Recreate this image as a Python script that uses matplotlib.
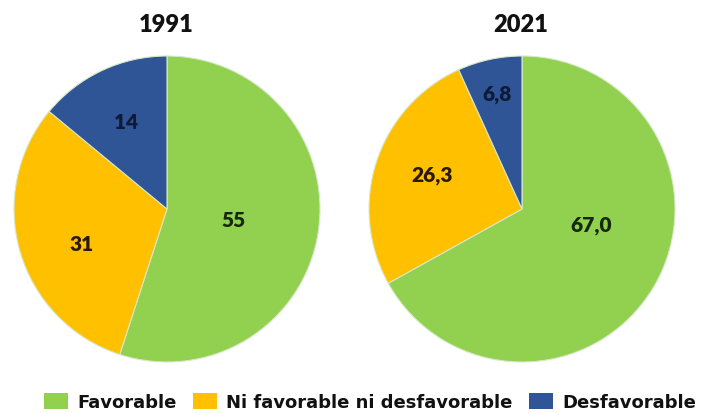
import matplotlib
matplotlib.use("Agg")
import matplotlib.pyplot as plt
import numpy as np

years = ["1991", "2021"]
categories = ["Favorable", "Ni favorable ni desfavorable", "Desfavorable"]
values_1991 = [55, 31, 14]
values_2021 = [67.0, 26.3, 6.8]
labels_1991 = ["55", "31", "14"]
labels_2021 = ["67,0", "26,3", "6,8"]

colors = ["#92D050", "#FFC000", "#2F5597"]
label_colors = ["#15280B", "#2A1800", "#0E1A36"]

W, H = 702, 414
fig = plt.figure(figsize=(W / 100, H / 100), dpi=100)
fig.patch.set_facecolor("white")

R = 153
centers = [(167, 210), (522, 210)]
# label placement style: (radius fraction, angle offset in degrees)
label_style = [
    [(0.44, 0), (0.60, 6), (0.63, 0)],
    [(0.46, 18), (0.63, -2.5), (0.77, 0)],
]

datasets = [(values_1991, labels_1991), (values_2021, labels_2021)]
for i, ((vals, labs), (cx, cy)) in enumerate(zip(datasets, centers)):
    ax = fig.add_axes([(cx - R) / W, 1 - (cy + R) / H, 2 * R / W, 2 * R / H])
    wedges, _ = ax.pie(vals, colors=colors, startangle=90, counterclock=False,
                       radius=1, wedgeprops=dict(edgecolor="#D8E8C8", linewidth=0.8))
    ax.set_xlim(-1, 1)
    ax.set_ylim(-1, 1)
    ax.set_aspect("equal")
    ax.axis("off")
    for j, (w, lab) in enumerate(zip(wedges, labs)):
        mid = np.deg2rad((w.theta1 + w.theta2) / 2 + label_style[i][j][1])
        r = label_style[i][j][0]
        ax.text(r * np.cos(mid), r * np.sin(mid), lab, ha="center", va="center",
                fontsize=15, fontweight="heavy", family="Lato", color=label_colors[j])
    fig.text((cx - 1) / W, 1 - 25 / H, years[i], ha="center", va="center",
             fontsize=17, fontweight="heavy", family="Lato", color="#111111")

handles = [plt.Rectangle((0, 0), 1, 1, facecolor=c, edgecolor="none") for c in colors]
leg = fig.legend(handles, categories, loc="center", bbox_to_anchor=(370 / W, 1 - 403 / H),
                 ncol=3, frameon=False, handlelength=1.35, handleheight=1.0,
                 handletextpad=0.5, columnspacing=0.9,
                 prop=dict(family="DejaVu Sans", weight="bold", size=13))
for t in leg.get_texts():
    t.set_color("#111111")

fig.savefig("out.png", dpi=100, facecolor="white")
